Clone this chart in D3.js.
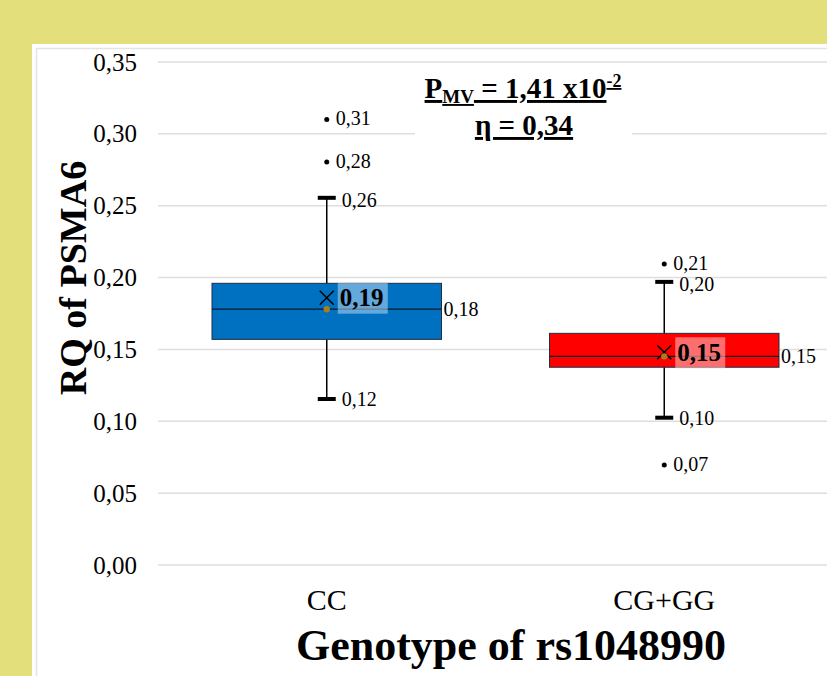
<!DOCTYPE html>
<html>
<head>
<meta charset="utf-8">
<script src="https://cdn.jsdelivr.net/npm/d3@7"></script>
<style>
  body { margin: 0; background: #e3e07c; }
  svg { display: block; }
  text { font-family: "Liberation Serif", "Times New Roman", serif; fill: #000; }
</style>
</head>
<body>
<div id="figure1"></div>
<script>
// data
var categories = ["CC", "CG+GG"];
var q1 = [0.157, 0.1376];
var medians = [0.178, 0.1452];
var q3 = [0.196, 0.1612];
var whiskerLow = [0.1155, 0.1025];
var whiskerHigh = [0.2555, 0.197];
var means = [0.186, 0.148];
var outliers = [[0.31, 0.2805], [0.2095, 0.0696]];
var yTicks = [0, 0.05, 0.10, 0.15, 0.20, 0.25, 0.30, 0.35];
var boxColors = ["#0070c0", "#ff0000"];
var labelBg = ["rgba(200,225,245,0.5)", "rgba(255,200,200,0.55)"];

var width = 827, height = 676;
var plot = { left: 158, right: 833, top: 62, bottom: 565 };

var fmt = function(v) { return v.toFixed(2).replace(".", ","); };

var svg = d3.select("#figure1").append("svg")
  .attr("width", width)
  .attr("height", height);

// white panel with faint border
svg.append("rect")
  .attr("x", 32).attr("y", 44)
  .attr("width", width).attr("height", height)
  .attr("fill", "#fff");
svg.append("rect")
  .attr("x", 36.5).attr("y", 48.5)
  .attr("width", width).attr("height", height)
  .attr("fill", "none")
  .attr("stroke", "#e4e4e4")
  .attr("stroke-width", 1.5);

var x = d3.scaleBand()
  .domain(categories)
  .range([plot.left, plot.right]);

var y = d3.scaleLinear()
  .domain([0, 0.35])
  .range([plot.bottom, plot.top]);

// gridlines
svg.append("g")
  .selectAll("line")
  .data(yTicks)
  .enter().append("line")
    .attr("x1", plot.left)
    .attr("x2", width)
    .attr("y1", function(d) { return y(d); })
    .attr("y2", function(d) { return y(d); })
    .attr("stroke", "#dedede")
    .attr("stroke-width", 1.5);

// y axis labels
var yAxis = d3.axisLeft(y)
  .tickValues(yTicks)
  .tickSize(0)
  .tickPadding(21)
  .tickFormat(fmt);

var yg = svg.append("g")
  .attr("transform", "translate(" + plot.left + ",0)")
  .call(yAxis);
yg.select(".domain").remove();
yg.selectAll("text")
  .style("font-family", "Liberation Serif")
  .style("font-size", "25px")
  .attr("fill", "#000");

// x axis labels
var xAxis = d3.axisBottom(x).tickSize(0).tickPadding(0);
var xg = svg.append("g")
  .attr("transform", "translate(0,610)")
  .call(xAxis);
xg.select(".domain").remove();
xg.selectAll("text")
  .attr("y", 0).attr("dy", 0)
  .style("font-family", "Liberation Serif")
  .style("font-size", "30px")
  .attr("fill", "#000");

// axis titles
svg.append("text")
  .attr("transform", "translate(86,278) rotate(-90)")
  .attr("text-anchor", "middle")
  .style("font-size", "38px")
  .style("font-weight", "bold")
  .text("RQ of PSMA6");

svg.append("text")
  .attr("x", 511)
  .attr("y", 660)
  .attr("text-anchor", "middle")
  .style("font-size", "44px")
  .style("font-weight", "bold")
  .text("Genotype of rs1048990");

// boxes
var boxW = x.bandwidth() * 0.68;
var groups = svg.selectAll(".box")
  .data(categories)
  .enter().append("g")
  .attr("class", "box");

groups.each(function(c, i) {
  var g = d3.select(this);
  var cx = x(c) + x.bandwidth() / 2;

  // whisker
  g.append("line")
    .attr("x1", cx).attr("x2", cx)
    .attr("y1", y(whiskerHigh[i])).attr("y2", y(whiskerLow[i]))
    .attr("stroke", "#000").attr("stroke-width", 1.5);
  [whiskerHigh[i], whiskerLow[i]].forEach(function(v, k) {
    g.append("line")
      .attr("x1", cx - 9).attr("x2", cx + 9)
      .attr("y1", y(v)).attr("y2", y(v))
      .attr("stroke", "#000").attr("stroke-width", 4);
    g.append("text")
      .attr("x", cx + 15).attr("y", y(v) + (k == 0 ? 2 : 0)).attr("dy", "0.35em")
      .style("font-size", "20px")
      .text(fmt(v));
  });

  // box
  g.append("rect")
    .attr("x", cx - boxW / 2)
    .attr("y", y(q3[i]))
    .attr("width", boxW)
    .attr("height", y(q1[i]) - y(q3[i]))
    .attr("fill", boxColors[i])
    .attr("stroke", "#1f2f4a")
    .attr("stroke-width", 1);
  g.append("line")
    .attr("x1", cx - boxW / 2).attr("x2", cx + boxW / 2)
    .attr("y1", y(medians[i])).attr("y2", y(medians[i]))
    .attr("stroke", "#0d1a2a").attr("stroke-width", 1.2);
  g.append("text")
    .attr("x", cx + boxW / 2 + 2).attr("y", y(medians[i])).attr("dy", "0.35em")
    .style("font-size", "20px")
    .text(fmt(medians[i]));

  // mean marker + label
  var my = y(means[i]);
  g.append("path")
    .attr("d", "M" + (cx - 7) + "," + (my - 7) + "L" + (cx + 7) + "," + (my + 7) +
               "M" + (cx + 7) + "," + (my - 7) + "L" + (cx - 7) + "," + (my + 7))
    .attr("stroke", "#000").attr("stroke-width", 1.5);
  g.append("circle")
    .attr("cx", cx).attr("cy", y(medians[i]))
    .attr("r", 3.2)
    .attr("fill", "#a97c1c");
  g.append("rect")
    .attr("x", cx + 11).attr("y", my - 15)
    .attr("width", 50).attr("height", 31)
    .attr("fill", labelBg[i]);
  g.append("text")
    .attr("x", cx + 13).attr("y", my).attr("dy", "0.35em")
    .style("font-size", "25px")
    .style("font-weight", "bold")
    .text(fmt(means[i]));

  // outliers
  outliers[i].forEach(function(v) {
    g.append("circle")
      .attr("cx", cx).attr("cy", y(v))
      .attr("r", 2.5).attr("fill", "#000");
    g.append("text")
      .attr("x", cx + 9).attr("y", y(v)).attr("dy", "0.3em")
      .style("font-size", "20px")
      .text(fmt(v));
  });
});

// statistics annotation
svg.append("rect")
  .attr("x", 415).attr("y", 72)
  .attr("width", 217).attr("height", 74)
  .attr("fill", "#fff");

var t1 = svg.append("text")
  .attr("x", 523).attr("y", 98)
  .attr("text-anchor", "middle")
  .style("font-size", "29px")
  .style("font-weight", "bold")
  .style("text-decoration", "underline");
t1.append("tspan").text("P");
t1.append("tspan").attr("dy", 5).style("font-size", "19px").text("MV");
t1.append("tspan").attr("dy", -5).text(" = 1,41 x10");
t1.append("tspan").attr("dy", -11).style("font-size", "18px").text("-2");

svg.append("text")
  .attr("x", 524).attr("y", 135)
  .attr("text-anchor", "middle")
  .style("font-size", "29px")
  .style("font-weight", "bold")
  .style("text-decoration", "underline")
  .text("\u03b7 = 0,34");
</script>
</body>
</html>
